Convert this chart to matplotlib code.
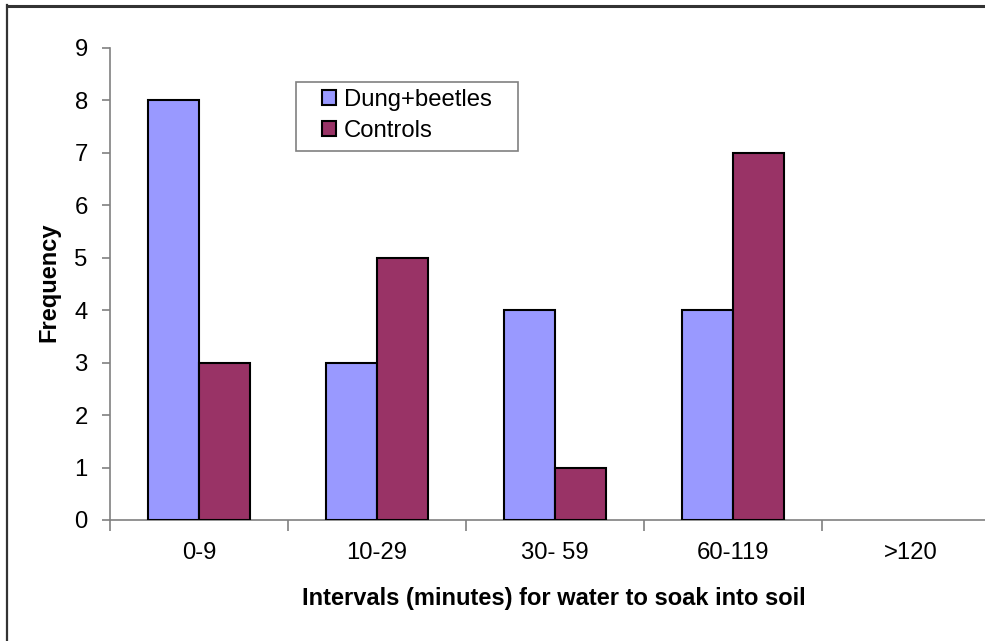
import matplotlib
matplotlib.use("Agg")
import matplotlib.pyplot as plt
from matplotlib.lines import Line2D
from matplotlib.patches import Patch, Rectangle
import numpy as np

plt.rcParams['font.family'] = ['Liberation Sans', 'DejaVu Sans']

categories = ["0-9", "10-29", "30- 59", "60-119", ">120"]
dung_beetles = [8, 3, 4, 4, 0]
controls = [3, 5, 1, 7, 0]
y_ticks = [0, 1, 2, 3, 4, 5, 6, 7, 8, 9]

W, H = 985, 641
FS = 17.2
fig = plt.figure(figsize=(W / 100, H / 100), dpi=100)
fig.patch.set_facecolor("white")

left, right = 110 / W, 1000 / W
bottom, top = 1 - 520 / H, 1 - 48 / H
ax = fig.add_axes([left, bottom, right - left, top - bottom])

x = np.arange(len(categories))
bw = 0.287
blue = "#9999FF"
red = "#993366"


def edge_widths(vals):
    # empty bins get no outline
    return [1.5 if v > 0 else 0 for v in vals]


ax.bar(x - bw / 2, dung_beetles, bw, color=blue, edgecolor="black",
       linewidth=edge_widths(dung_beetles), label="Dung+beetles", zorder=3)
ax.bar(x + bw / 2, controls, bw, color=red, edgecolor="black",
       linewidth=edge_widths(controls), label="Controls", zorder=3)

ax.set_xlim(-0.5, len(categories) - 0.5)
ax.set_ylim(0, 9)
ax.set_yticks(y_ticks)
ax.set_yticklabels([str(t) for t in y_ticks], fontsize=FS)
ax.set_xticks(x)
ax.set_xticklabels(categories, fontsize=FS)
ax.set_xticks(np.arange(-0.5, len(categories), 1.0), minor=True)

for s in ["top", "right"]:
    ax.spines[s].set_visible(False)
for s in ["left", "bottom"]:
    ax.spines[s].set_color("#808080")
    ax.spines[s].set_linewidth(1.2)

ax.tick_params(axis="y", direction="out", length=6, width=1.2, color="#808080", pad=10)
ax.tick_params(axis="x", which="major", length=0, pad=16)
ax.tick_params(axis="x", which="minor", direction="out", length=8, width=1.2, color="#808080")

ax.set_xlabel("Intervals (minutes) for water to soak into soil", fontsize=17,
              fontweight="bold", va="center")
ax.xaxis.set_label_coords((554 - 110) / (1000 - 110), -(599 - 520) / (520 - 48))
ax.set_ylabel("Frequency", fontsize=17, fontweight="bold", va="center")
ax.yaxis.set_label_coords(-(110 - 49) / (1000 - 110), (520 - 282) / (520 - 48))

# legend box
fig.add_artist(Rectangle((296 / W, 1 - 151 / H), 222 / W, 69 / H,
                         transform=fig.transFigure, facecolor="white",
                         edgecolor="#808080", linewidth=1.2, zorder=4))
handles = [Patch(facecolor=blue, edgecolor="black", linewidth=1.5),
           Patch(facecolor=red, edgecolor="black", linewidth=1.5)]
leg = fig.legend(handles, ["Dung+beetles", "Controls"], fontsize=FS,
                 loc="upper left", bbox_to_anchor=(322 / W, 1 - 89 / H),
                 bbox_transform=fig.transFigure, frameon=False,
                 handlelength=0.58, handleheight=0.58, handletextpad=0.35,
                 borderpad=0, labelspacing=0.38, borderaxespad=0)
leg.set_zorder(5)

# outer frame lines (left and top)
fig.add_artist(Line2D([7 / W, 7 / W], [0, 1 - 5 / H], color="#333333", linewidth=1.6,
                      transform=fig.transFigure))
fig.add_artist(Line2D([7 / W, 1], [1 - 5.5 / H, 1 - 5.5 / H], color="#333333", linewidth=2.2,
                      transform=fig.transFigure))

fig.savefig("out.png", dpi=100)
